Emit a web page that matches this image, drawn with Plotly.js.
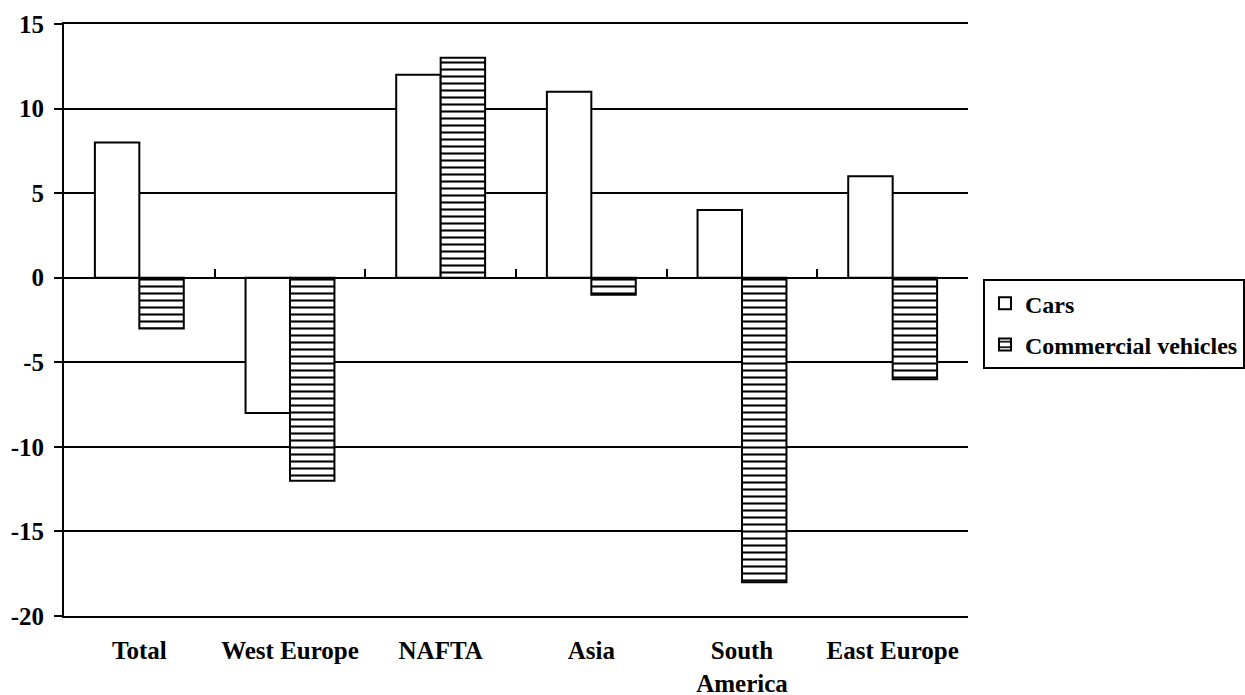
<!DOCTYPE html>
<html>
<head>
<meta charset="utf-8">
<script src="https://cdn.plot.ly/plotly-3.0.1.min.js"></script>
<style>html,body{margin:0;padding:0;background:#fff;}#chart{width:1245px;height:695px;}</style>
</head>
<body>
<div id="chart"></div>
<script>
const categories = ["Total", "West Europe", "NAFTA", "Asia", "South<br>America", "East Europe"];
const cars = [8, -8, 12, 11, 4, 6];
const commercial = [-3, -12, 13, -1, -18, -6];
const yTicks = [-20, -15, -10, -5, 0, 5, 10, 15];

const boldFont = {family: "'Liberation Serif', 'Times New Roman', serif", size: 25, color: "#000", weight: "bold"};
const legendFont = Object.assign({}, boldFont, {size: 24});

const traces = [
  {
    type: "bar", name: "Cars", x: categories, y: cars, legendgroup: "a",
    marker: {color: "#fff", line: {color: "#000", width: 2}}
  },
  {
    type: "bar", name: "Commercial vehicles", x: categories, y: commercial, legendgroup: "b",
    marker: {color: "#fff", line: {color: "#000", width: 2},
      pattern: {shape: "-", fgcolor: "#000", bgcolor: "#fff", size: 7, solidity: 0.3}}
  },
  {
    type: "scatter", x: [0.5], y: [0], xaxis: "x2", mode: "markers",
    marker: {opacity: 0}, showlegend: false, hoverinfo: "skip"
  }
];

const layout = {
  width: 1245, height: 695,
  margin: {l: 64, r: 277, t: 24, b: 79, autoexpand: false},
  paper_bgcolor: "#fff", plot_bgcolor: "#fff",
  font: boldFont,
  barmode: "group", bargap: 0.41, bargroupgap: 0,
  showlegend: true,
  legend: {
    x: 1.0166, xanchor: "left", y: 0.569, yanchor: "top",
    bordercolor: "#000", borderwidth: 2, bgcolor: "#fff",
    font: legendFont, itemwidth: 30, traceorder: "grouped", tracegroupgap: 7
  },
  xaxis: {
    type: "category", showgrid: false, zeroline: false,
    showline: true, mirror: true, linecolor: "#000", linewidth: 2,
    ticks: "", tickfont: boldFont, ticklabelstandoff: 11
  },
  xaxis2: {
    overlaying: "x", anchor: "free", position: 20 / 35, side: "top",
    range: [-0.5, 5.5], tickvals: [0.5, 1.5, 2.5, 3.5, 4.5],
    ticks: "outside", ticklen: 8, tickwidth: 2, tickcolor: "#000",
    showticklabels: false, showline: true, linecolor: "#000", linewidth: 2,
    showgrid: false, zeroline: false
  },
  yaxis: {
    range: [-20, 15], tickvals: yTicks, ticktext: yTicks.map(String),
    showgrid: true, gridcolor: "#000", gridwidth: 2,
    zeroline: true, zerolinecolor: "#000", zerolinewidth: 2,
    showline: true, linecolor: "#000", linewidth: 2,
    ticks: "outside", ticklen: 8, tickwidth: 2, tickcolor: "#000",
    tickfont: boldFont, ticklabelstandoff: 5
  }
};

Plotly.newPlot("chart", traces, layout, {displayModeBar: false, staticPlot: true});
</script>
</body>
</html>
